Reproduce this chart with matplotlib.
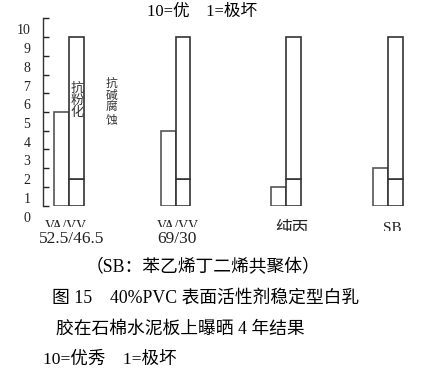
import matplotlib
matplotlib.use("Agg")
import matplotlib.pyplot as plt
from matplotlib.transforms import ScaledTranslation, Bbox

plt.rcParams["font.family"] = ["Liberation Serif", "Noto Sans CJK SC"]

# ---- data ----
groups_top = ["VA/VV", "VA/VV", "纯丙", "SB"]
groups_bottom = ["52.5/46.5", "69/30", "", ""]
left_bar = [5, 4, 1, 2]          # short bar on the left of each pair
right_total = [9, 9, 9, 9]       # tall bar on the right
right_inner = [1.4, 1.4, 1.4, 1.4]  # line inside the tall bar
yticks = list(range(0, 11))

W, H = 431, 376
fig = plt.figure(figsize=(W / 100, H / 100), dpi=100)
ax = fig.add_axes([43.5 / W, 1 - 205.7 / H, 366.5 / W, 187.4 / H])

xpos = [0, 1.0, 2.04, 3.0]
edge = "#333333"
ax.bar(xpos, left_bar, width=-0.141, align="edge", facecolor="white",
       edgecolor="#555555", linewidth=1.2)
ax.bar(xpos, right_inner, width=0.135, align="edge", facecolor="white",
       edgecolor=edge, linewidth=1.2)
ax.bar(xpos, [t - i for t, i in zip(right_total, right_inner)], bottom=right_inner,
       width=0.135, align="edge", facecolor="white", edgecolor=edge, linewidth=1.2)

ax.set_xlim(-0.243, 3.205)
ax.set_ylim(0, 10)
ax.set_xticks([])
ax.set_yticks(yticks)
ax.tick_params(axis="y", direction="in", length=4.5, width=1, pad=9.5,
               labelsize=10, colors="#222222")
for s in ["top", "right", "bottom"]:
    ax.spines[s].set_visible(False)
ax.spines["left"].set_linewidth(1)
ax.spines["left"].set_color("#333333")
ax.patch.set_visible(False)

# tick labels sit lower than their ticks in the original
shift = ScaledTranslation(0, -0.11, fig.dpi_scale_trans)
for lab in ax.get_yticklabels():
    lab.set_transform(lab.get_transform() + shift)


def px(x, y):
    return x / W, 1 - y / H


# vertical labels
fig.text(*px(77, 101), "抗\n粉\n化", fontsize=9.5, ha="center", va="center",
         linespacing=1.0, color="#333333")
fig.text(*px(111.5, 102), "抗\n碱\n腐\n蚀", fontsize=8.5, ha="center", va="center",
         linespacing=1.0, color="#333333")

# category labels (upper line is cut off in the scan)
top_x = [66, 178, 292, 392]
top_y = [226, 226, 229.5, 228]
top_fs = [10, 10, 12, 11]
clip_y = [227, 227, 231, 231]
for name, x, y, fs, cy in zip(groups_top, top_x, top_y, top_fs, clip_y):
    t = fig.text(*px(x, y), name, fontsize=fs, ha="center", va="center",
                 color="#222222")
    t.set_clip_box(Bbox([[0, H - cy], [W, H]]))
    t.set_clip_on(True)

bot_x = [72, 176.5]
for name, x in zip(groups_bottom[:2], bot_x):
    fig.text(*px(x, 239), name, fontsize=12.5, ha="center", va="center",
             color="#222222")

fig.text(*px(202, 12), "10=优    1=极坏", fontsize=12, ha="center", va="center")
fig.text(*px(203, 268), "（SB：苯乙烯丁二烯共聚体）", fontsize=12.8,
         ha="center", va="center")
fig.text(*px(52, 298.5), "图 15　40%PVC 表面活性剂稳定型白乳", fontsize=12.8,
         ha="left", va="center")
fig.text(*px(56, 329.5), "胶在石棉水泥板上曝晒 4 年结果", fontsize=12.8,
         ha="left", va="center")
fig.text(*px(43, 359.5), "10=优秀　1=极坏", fontsize=12.6, ha="left", va="center")

fig.savefig("out.png", dpi=100)
